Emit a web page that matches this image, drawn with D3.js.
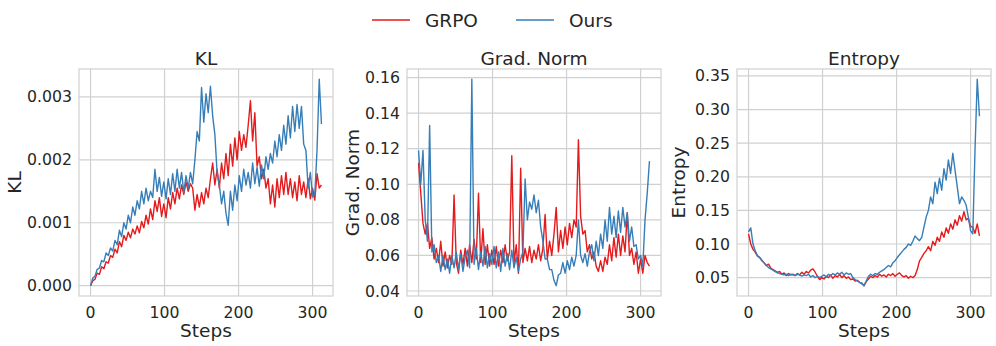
<!DOCTYPE html>
<html>
<head>
<meta charset="utf-8">
<script src="https://cdn.jsdelivr.net/npm/d3@7"></script>
<style>
  body { margin: 0; background: #fff; }
  text { font-family: "DejaVu Sans", sans-serif; fill: #262626; }
</style>
</head>
<body>
<svg id="fig" width="996" height="346"></svg>
<script>
"use strict"

// Training steps (x axis), one sample every 3 steps
var steps = d3.range(0, 313, 3);

// KL, in units of 1e-3
var klGrpo = [
  0, 0.08, 0.10, 0.20, 0.18, 0.30, 0.27, 0.38, 0.36, 0.48, 0.45,
  0.58, 0.52, 0.70, 0.62, 0.80, 0.72, 0.85, 0.76, 0.90, 0.82,
  0.95, 0.84, 1.02, 0.92, 1.12, 0.98, 1.22, 1.05, 1.35, 1.18, 1.40, 1.10, 1.30,
  1.08, 1.40, 1.22, 1.48, 1.30, 1.55, 1.38, 1.60, 1.45, 1.65, 1.50, 1.62, 1.55,
  1.20, 1.45, 1.25, 1.48, 1.30, 1.55, 1.40,
  1.70, 1.95, 1.60, 1.85, 1.55, 1.95, 1.70,
  2.10, 1.75, 2.25, 1.90, 2.35, 2.00, 2.45, 2.15, 2.40, 2.20,
  2.55, 2.94, 2.30, 2.75, 1.90, 2.05, 1.70, 1.85, 1.55, 1.70,
  1.30, 1.60, 1.25, 1.70, 1.40, 1.75, 1.45, 1.80, 1.45, 1.70,
  1.40, 1.65, 1.35, 1.75, 1.45, 1.65, 1.40, 1.70, 1.38, 1.55, 1.36, 1.78, 1.55, 1.60
];
var klOurs = [
  0, 0.12, 0.15, 0.26, 0.28, 0.40, 0.38, 0.52, 0.48, 0.60, 0.55,
  0.72, 0.65, 0.88, 0.78, 1.00, 0.90, 1.12, 1.00, 1.25, 1.12,
  1.35, 1.22, 1.50, 1.30, 1.55, 1.35, 1.50, 1.40, 1.85, 1.50, 1.72, 1.42, 1.65,
  1.38, 1.70, 1.45, 1.78, 1.50, 1.85, 1.55, 1.80, 1.48, 1.75, 1.55, 1.80, 1.62,
  2.00, 2.45, 2.30, 3.15, 2.60, 3.05, 2.75,
  3.17, 2.70, 2.40, 1.80, 1.60, 1.30, 1.50,
  1.15, 0.96, 1.50, 1.20, 1.60, 1.35, 1.75, 1.50, 1.85, 1.60,
  1.80, 1.55, 1.95, 1.62, 1.88, 1.58, 1.92, 1.70, 2.05, 1.85,
  2.10, 1.95, 2.30, 2.05, 2.40, 2.15, 2.55, 2.25, 2.70, 2.35,
  2.85, 2.45, 2.88, 2.50, 2.85, 2.25, 2.15, 1.55, 1.80, 1.41, 1.45, 2.15, 3.28, 2.57
];

// Gradient norm
var gradGrpo = [
  0.112, 0.095, 0.078, 0.072, 0.078, 0.064, 0.070, 0.058, 0.064, 0.056, 0.068,
  0.054, 0.062, 0.053, 0.060, 0.055, 0.094, 0.056, 0.050, 0.063, 0.055,
  0.064, 0.054, 0.066, 0.056, 0.069, 0.058, 0.095, 0.056, 0.075, 0.055, 0.066, 0.054, 0.063,
  0.055, 0.065, 0.054, 0.063, 0.056, 0.066, 0.057, 0.062, 0.116, 0.056, 0.066, 0.050, 0.109,
  0.056, 0.064, 0.057, 0.065, 0.056, 0.063, 0.058,
  0.066, 0.057, 0.064, 0.083, 0.058, 0.068, 0.060,
  0.072, 0.087, 0.062, 0.074, 0.064, 0.076, 0.066, 0.078, 0.070, 0.080,
  0.076, 0.125, 0.082, 0.072, 0.074, 0.062, 0.066, 0.058, 0.062, 0.054,
  0.051, 0.057, 0.051, 0.059, 0.055, 0.066, 0.057, 0.070, 0.059, 0.072,
  0.060, 0.071, 0.062, 0.084, 0.060, 0.064, 0.055, 0.062, 0.050, 0.058, 0.050, 0.060, 0.056, 0.054
];
var gradOurs = [
  0.119, 0.100, 0.119, 0.080, 0.068, 0.133, 0.062, 0.066, 0.056, 0.060, 0.051,
  0.060, 0.052, 0.058, 0.050, 0.060, 0.053, 0.062, 0.052, 0.061, 0.051,
  0.059, 0.063, 0.053, 0.159, 0.055, 0.064, 0.052, 0.062, 0.054, 0.065, 0.053, 0.061, 0.055,
  0.065, 0.053, 0.062, 0.051, 0.064, 0.054, 0.061, 0.052, 0.063, 0.053, 0.059, 0.051, 0.058,
  0.062, 0.103, 0.080, 0.090, 0.086, 0.094, 0.084,
  0.091, 0.076, 0.068, 0.058, 0.058, 0.052, 0.052,
  0.046, 0.043, 0.049, 0.050, 0.056, 0.050, 0.057, 0.052, 0.059, 0.054,
  0.060, 0.080, 0.060, 0.056, 0.061, 0.054, 0.062, 0.066, 0.057, 0.068,
  0.060, 0.072, 0.064, 0.080, 0.068, 0.087, 0.072, 0.082, 0.070, 0.085,
  0.073, 0.087, 0.076, 0.084, 0.068, 0.076, 0.065, 0.066, 0.058, 0.060, 0.054, 0.080, 0.095, 0.113
];

// Entropy
var entGrpo = [
  0.115, 0.100, 0.092, 0.088, 0.082, 0.080, 0.076, 0.072, 0.068, 0.070, 0.064,
  0.062, 0.060, 0.058, 0.059, 0.055, 0.057, 0.053, 0.056, 0.054, 0.055,
  0.053, 0.056, 0.054, 0.058, 0.055, 0.059, 0.057, 0.061, 0.063, 0.058, 0.052, 0.047, 0.050,
  0.048, 0.052, 0.050, 0.054, 0.049, 0.053, 0.051, 0.055, 0.050, 0.053, 0.049, 0.051, 0.047,
  0.048, 0.045, 0.046, 0.043, 0.041, 0.038, 0.044,
  0.048, 0.052, 0.050, 0.053, 0.051, 0.055, 0.052,
  0.054, 0.051, 0.055, 0.053, 0.056, 0.052, 0.055, 0.057, 0.053, 0.051,
  0.053, 0.049, 0.052, 0.050, 0.053, 0.062, 0.075, 0.080, 0.086, 0.090,
  0.096, 0.090, 0.104, 0.098, 0.110, 0.104, 0.118, 0.110, 0.124, 0.116,
  0.130, 0.122, 0.136, 0.128, 0.142, 0.134, 0.148, 0.136, 0.138, 0.126, 0.125, 0.116, 0.130, 0.112
];
var entOurs = [
  0.118, 0.124, 0.100, 0.090, 0.083, 0.080, 0.075, 0.072, 0.068, 0.065, 0.063,
  0.061, 0.059, 0.057, 0.056, 0.055, 0.054, 0.055, 0.053, 0.055, 0.054,
  0.053, 0.055, 0.054, 0.052, 0.054, 0.053, 0.055, 0.051, 0.053, 0.050, 0.052, 0.050, 0.052,
  0.054, 0.051, 0.055, 0.053, 0.056, 0.054, 0.057, 0.055, 0.058, 0.054, 0.057, 0.055, 0.056,
  0.050, 0.047, 0.045, 0.043, 0.042, 0.038, 0.045,
  0.052, 0.055, 0.053, 0.056, 0.055, 0.058, 0.060,
  0.062, 0.065, 0.068, 0.066, 0.072, 0.075, 0.080, 0.084, 0.088, 0.092,
  0.095, 0.100, 0.098, 0.104, 0.112, 0.108, 0.105, 0.110, 0.125, 0.140,
  0.150, 0.170, 0.160, 0.192, 0.175, 0.198, 0.180, 0.212, 0.195, 0.225,
  0.205, 0.235, 0.210, 0.185, 0.160, 0.170, 0.165, 0.158, 0.140, 0.120, 0.115, 0.240, 0.345, 0.290
];

// Tick values and labels
var xTicks = [0, 100, 200, 300];
var klTicks = [0, 1, 2, 3],
    klTickLabels = ["0.000", "0.001", "0.002", "0.003"];
var gradTicks = [0.04, 0.06, 0.08, 0.10, 0.12, 0.14, 0.16],
    gradTickLabels = ["0.04", "0.06", "0.08", "0.10", "0.12", "0.14", "0.16"];
var entTicks = [0.05, 0.10, 0.15, 0.20, 0.25, 0.30, 0.35],
    entTickLabels = ["0.05", "0.10", "0.15", "0.20", "0.25", "0.30", "0.35"];

var seriesNames = ["GRPO", "Ours"],
    colors = ["#e41a1c", "#377eb8"];

var svg = d3.select("svg#fig"),
    plotTop = 69, plotBottom = 296,
    panelW = 254,
    gridColor = "#d0d0d0";

var panels = [
  { title: "KL", ylabel: "KL", left: 79, ylabX: 21, data: [klGrpo, klOurs], ticks: klTicks, labels: klTickLabels },
  { title: "Grad. Norm", ylabel: "Grad. Norm", left: 407, ylabX: 359, data: [gradGrpo, gradOurs], ticks: gradTicks, labels: gradTickLabels },
  { title: "Entropy", ylabel: "Entropy", left: 737, ylabX: 685, data: [entGrpo, entOurs], ticks: entTicks, labels: entTickLabels }
];

// matplotlib style 5% margins
function padded(ext) {
  var m = (ext[1] - ext[0]) * 0.05;
  return [ext[0] - m, ext[1] + m];
}

panels.forEach(function(p) {
  var x = d3.scaleLinear().domain(padded(d3.extent(steps))).range([p.left, p.left + panelW]),
      y = d3.scaleLinear().domain(padded(d3.extent(p.data[0].concat(p.data[1])))).range([plotBottom, plotTop]);

  var g = svg.append("g");

  // grid
  g.selectAll("line.vg").data(xTicks).enter().append("line")
    .attr("x1", function(d) { return x(d); }).attr("x2", function(d) { return x(d); })
    .attr("y1", plotTop).attr("y2", plotBottom)
    .attr("stroke", gridColor).attr("stroke-width", 1.2);
  g.selectAll("line.hg").data(p.ticks).enter().append("line")
    .attr("x1", p.left).attr("x2", p.left + panelW)
    .attr("y1", function(d) { return y(d); }).attr("y2", function(d) { return y(d); })
    .attr("stroke", gridColor).attr("stroke-width", 1.2);

  // frame
  g.append("rect")
    .attr("x", p.left).attr("y", plotTop)
    .attr("width", panelW).attr("height", plotBottom - plotTop)
    .attr("fill", "none").attr("stroke", gridColor).attr("stroke-width", 1.2);

  // tick labels
  g.selectAll("text.xt").data(xTicks).enter().append("text")
    .attr("x", function(d) { return x(d); }).attr("y", 318)
    .attr("text-anchor", "middle").style("font-size", "15.7px")
    .text(function(d) { return d; });
  g.selectAll("text.yt").data(p.ticks).enter().append("text")
    .attr("x", p.left - 7).attr("y", function(d) { return y(d); })
    .attr("text-anchor", "end").attr("dominant-baseline", "central")
    .style("font-size", "15.7px")
    .text(function(d, i) { return p.labels[i]; });

  // title and axis labels
  g.append("text")
    .attr("x", p.left + panelW / 2).attr("y", 65)
    .attr("text-anchor", "middle").style("font-size", "18.5px")
    .text(p.title);
  g.append("text")
    .attr("x", p.left + panelW / 2).attr("y", 336.5)
    .attr("text-anchor", "middle").style("font-size", "18.5px")
    .text("Steps");
  g.append("text")
    .attr("transform", "translate(" + p.ylabX + "," + ((plotTop + plotBottom) / 2) + ") rotate(-90)")
    .attr("text-anchor", "middle").style("font-size", "18.5px")
    .text(p.ylabel);

  // series
  var line = d3.line()
    .x(function(d, i) { return x(steps[i]); })
    .y(function(d) { return y(d); });
  p.data.forEach(function(vals, k) {
    g.append("path")
      .attr("d", line(vals))
      .attr("fill", "none")
      .attr("stroke", colors[k])
      .attr("stroke-width", 1.4)
      .attr("stroke-linejoin", "round");
  });
});

// legend
var legendX = [372, 516];
seriesNames.forEach(function(name, k) {
  svg.append("line")
    .attr("x1", legendX[k]).attr("x2", legendX[k] + 38)
    .attr("y1", 20).attr("y2", 20)
    .attr("stroke", colors[k]).attr("stroke-width", 1.5);
  svg.append("text")
    .attr("x", legendX[k] + 53).attr("y", 27)
    .style("font-size", "18.5px")
    .text(name);
});
</script>
</body>
</html>
